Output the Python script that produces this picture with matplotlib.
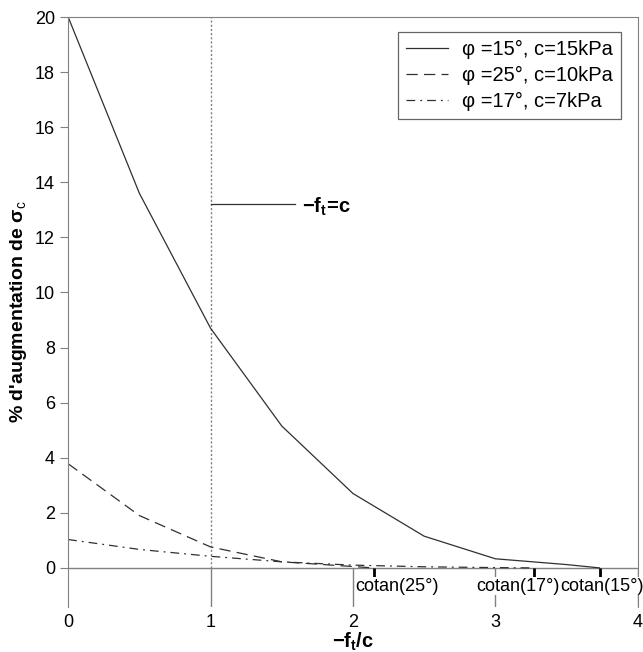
import matplotlib
matplotlib.use("Agg")
import matplotlib.pyplot as plt
import numpy as np

plt.rcParams["font.family"] = ["Liberation Sans", "DejaVu Sans"]
plt.rcParams["mathtext.fontset"] = "custom"
plt.rcParams["mathtext.rm"] = "Liberation Sans"
plt.rcParams["mathtext.it"] = "Liberation Sans:italic"
plt.rcParams["mathtext.bf"] = "Liberation Sans:bold"

# data
x15 = [0, 0.5, 1.0, 1.5, 2.0, 2.5, 3.0, 3.5, 3.73]
y15 = [20.0, 13.6, 8.7, 5.15, 2.7, 1.15, 0.33, 0.12, 0.0]
x25 = [0, 0.5, 1.0, 1.5, 2.0, 2.14]
y25 = [3.78, 1.9, 0.76, 0.22, 0.05, 0.0]
x17 = [0, 0.5, 1.0, 1.5, 2.0, 2.5, 3.0, 3.27]
y17 = [1.03, 0.67, 0.42, 0.22, 0.1, 0.04, 0.01, 0.0]

labels = ["φ =15°, c=15kPa", "φ =25°, c=10kPa", "φ =17°, c=7kPa"]
cotan_x = [1 / np.tan(np.radians(a)) for a in (25, 17, 15)]
cotan_lbl = ["cotan(25°)", "cotan(17°)", "cotan(15°)"]
cotan_lbl_x = [2.31, 3.16, 3.75]

xticks = [0, 1, 2, 3, 4]
yticks = list(range(0, 21, 2))

grey = "#808080"
ink = "#303030"
ybot = -1.42

fig = plt.figure(figsize=(6.43, 6.52), dpi=100)
ax = fig.add_axes([0.106, (652 - 607) / 652, 0.886, (607 - 17) / 652])

ax.plot(x15, y15, color=ink, lw=0.9, ls="-", label=labels[0])
ax.plot(x25, y25, color=ink, lw=0.9, ls=(0, (9, 5)), label=labels[1])
ax.plot(x17, y17, color=ink, lw=0.9, ls=(0, (7, 4, 1.5, 4)), label=labels[2])

ax.set_xlim(0, 4)
ax.set_ylim(ybot, 20)

# zero line, x = 1 dotted marker, tick lines down from zero
ax.axhline(0, color=grey, lw=1.0, zorder=1)
ax.plot([1, 1], [0, 20], color=grey, lw=1.0, ls=(0, (1.5, 1.5)), zorder=1)
ax.vlines(xticks[1:], ybot, 0, color=grey, lw=1.0, zorder=1)

# cotan ticks and labels
ax.vlines(cotan_x, -0.35, 0, color="black", lw=2.0, zorder=3)
for xc, t in zip(cotan_lbl_x, cotan_lbl):
    ax.text(xc, -0.66, t, ha="center", va="center", fontsize=13, zorder=4,
            bbox=dict(facecolor="white", edgecolor="none", pad=0.5))

# -ft = c annotation
ax.plot([1, 1.59], [13.2, 13.2], color=ink, lw=0.9)
ax.text(1.64, 13.1, r"$\mathbf{-f_t\!=\!c}$", fontsize=14.5,
        va="center", ha="left")

for s in ("top", "right", "left"):
    ax.spines[s].set_color(grey)
ax.spines["bottom"].set_visible(False)
ax.spines["left"].set_bounds(ybot, 20)

ax.set_yticks(yticks)
ax.set_xticks(xticks)
ax.tick_params(axis="y", direction="out", length=6, color=grey, labelsize=13)
ax.tick_params(axis="x", length=0, labelsize=13, pad=5)

ax.set_ylabel(r"% d'augmentation de σ$_\mathrm{c}$", fontsize=14, fontweight="bold")
ax.set_xlabel(r"$\mathbf{-f_t/c}$", fontsize=14.5, labelpad=0)

leg = ax.legend(loc="upper right", bbox_to_anchor=(0.971, 0.975), borderaxespad=0,
                fontsize=14.5, frameon=True, fancybox=False, handlelength=2.1,
                borderpad=0.4, labelspacing=0.35, handletextpad=0.7)
leg.get_frame().set_edgecolor("#404040")
leg.get_frame().set_linewidth(0.9)

fig.savefig("out.png", dpi=100)
